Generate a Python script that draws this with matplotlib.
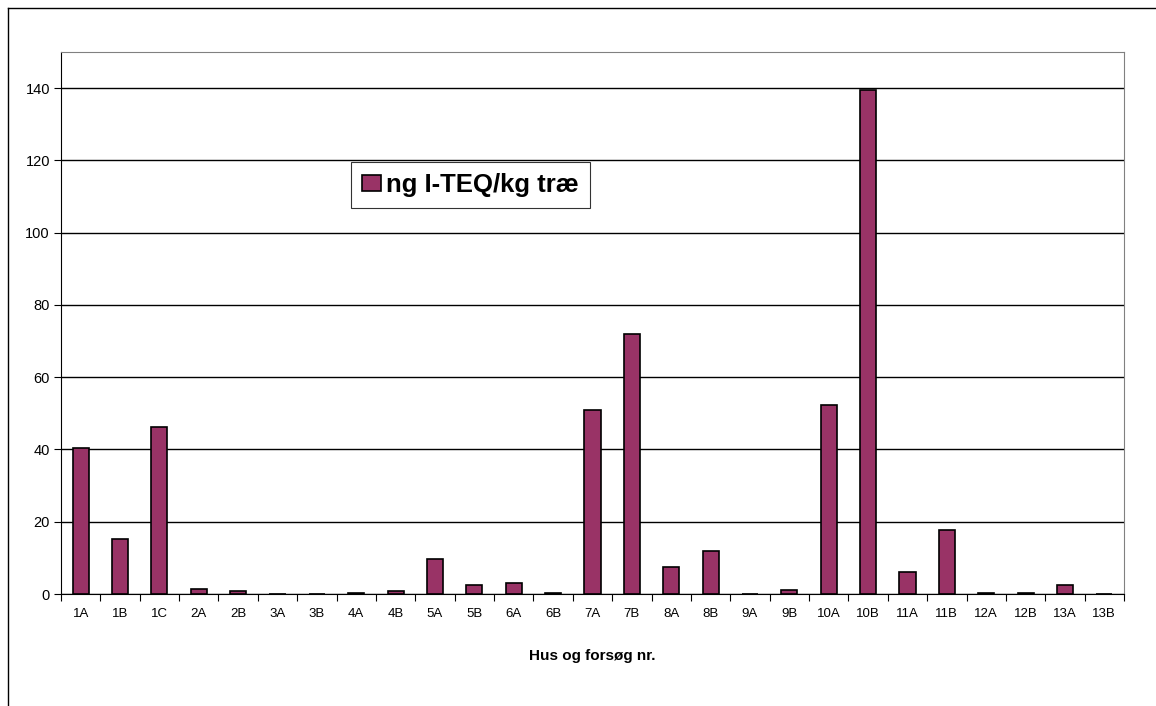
import matplotlib.pyplot as plt
from matplotlib.lines import Line2D
import numpy as np

plt.rcParams['font.family'] = ['Liberation Sans', 'DejaVu Sans']

# --- data ---
categories = ['1A', '1B', '1C', '2A', '2B', '3A', '3B', '4A', '4B', '5A', '5B', '6A', '6B',
              '7A', '7B', '8A', '8B', '9A', '9B', '10A', '10B', '11A', '11B', '12A', '12B',
              '13A', '13B']
values = [40.4, 15.3, 46.1, 1.3, 0.8, 0.1, 0.05, 0.3, 0.8, 9.7, 2.4, 3.0, 0.4,
          50.8, 72.0, 7.6, 12.0, 0.0, 1.0, 52.2, 139.6, 6.2, 17.8, 0.35, 0.2,
          2.6, 0.05]
y_ticks = [0, 20, 40, 60, 80, 100, 120, 140]
series_label = 'ng I-TEQ/kg træ'
x_label = 'Hus og forsøg nr.'

BAR_COLOR = '#993366'

fig = plt.figure(figsize=(11.56, 7.06), dpi=100)
ax = fig.add_axes([61 / 1156, 1 - 594 / 706, (1124 - 61) / 1156, (594 - 52) / 706])

x = np.arange(len(categories))
ax.set_axisbelow(True)
ax.bar(x, values, width=0.41, color=BAR_COLOR, edgecolor='black', linewidth=1.2,
       label=series_label, zorder=3)

ax.set_xlim(-0.5, len(categories) - 0.5)
ax.set_ylim(0, 150)
ax.set_yticks(y_ticks)
ax.tick_params(axis='y', direction='out', length=5, width=0.8, labelsize=10.5, pad=3)
ax.yaxis.grid(True, color='black', linewidth=1.0)

# category labels centred, tick marks at category boundaries
ax.set_xticks(x)
ax.set_xticklabels(categories)
ax.tick_params(axis='x', which='major', length=0, labelsize=9.5, pad=10)
ax.set_xticks(np.arange(-0.5, len(categories), 1), minor=True)
ax.tick_params(axis='x', which='minor', direction='out', length=5, width=0.8)

ax.set_xlabel(x_label, fontsize=11, fontweight='bold', labelpad=21)

for side in ['top', 'right']:
    ax.spines[side].set_color('#808080')
for side in ['left', 'bottom']:
    ax.spines[side].set_color('black')

leg = ax.legend(loc='upper left', bbox_to_anchor=((351 - 61) / 1063, (594 - 162) / 542),
                frameon=True, fancybox=False, shadow=False, borderaxespad=0,
                prop={'size': 18.5, 'weight': 'bold'}, handlelength=0.75, handleheight=0.6,
                handletextpad=0.2, borderpad=0.42)
leg.get_frame().set_edgecolor('black')
leg.get_frame().set_linewidth(0.8)

# outer chart-area frame (top and left edges visible)
fig.add_artist(Line2D([8 / 1156, 1.0], [1 - 8 / 706, 1 - 8 / 706], color='black', linewidth=1.0))
fig.add_artist(Line2D([8 / 1156, 8 / 1156], [0.0, 1 - 8 / 706], color='black', linewidth=1.0))

plt.savefig('out.png', dpi=100)
